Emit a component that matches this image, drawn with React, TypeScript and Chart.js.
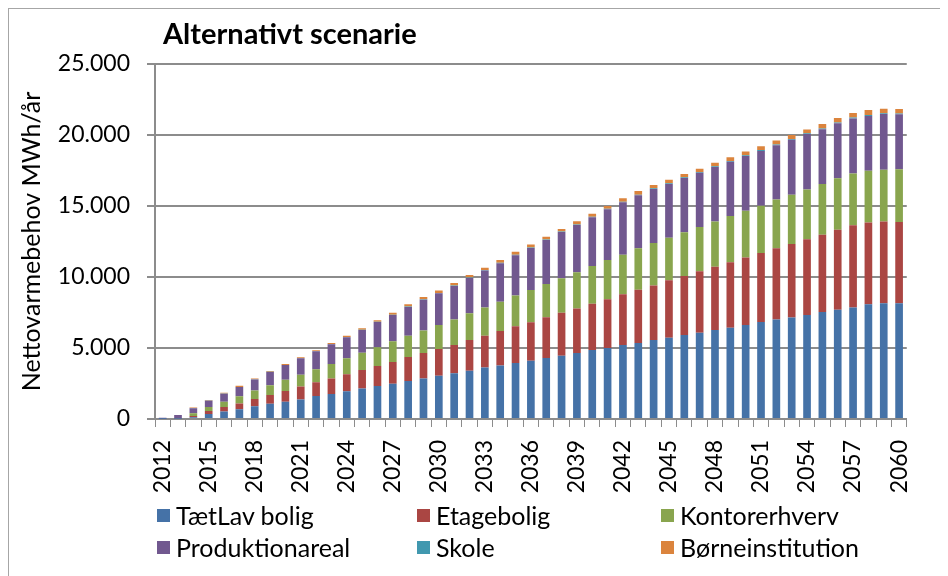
import React, { useEffect, useRef } from "react";
import { Chart, registerables } from "chart.js";

Chart.register(...registerables);

const years = [
  "2012", "2013", "2014", "2015", "2016", "2017", "2018", "2019", "2020", "2021",
  "2022", "2023", "2024", "2025", "2026", "2027", "2028", "2029", "2030", "2031",
  "2032", "2033", "2034", "2035", "2036", "2037", "2038", "2039", "2040", "2041",
  "2042", "2043", "2044", "2045", "2046", "2047", "2048", "2049", "2050", "2051",
  "2052", "2053", "2054", "2055", "2056", "2057", "2058", "2059", "2060",
];

const taetLavBolig = [
  10, 20, 120, 350, 520, 680, 890, 1080, 1220, 1380,
  1620, 1760, 1950, 2140, 2320, 2490, 2680, 2860, 3050, 3220,
  3400, 3620, 3760, 3940, 4110, 4300, 4460, 4650, 4860, 5000,
  5210, 5350, 5560, 5730, 5920, 6080, 6270, 6430, 6620, 6830,
  7000, 7140, 7320, 7540, 7700, 7860, 8080, 8150, 8150,
];

const etagebolig = [
  0, 10, 90, 210, 330, 420, 520, 610, 750, 900,
  960, 1100, 1200, 1310, 1410, 1520, 1690, 1790, 1880, 1990,
  2160, 2250, 2440, 2590, 2700, 2860, 3030, 3140, 3260, 3430,
  3570, 3760, 3850, 4040, 4150, 4320, 4460, 4600, 4760, 4860,
  5020, 5180, 5330, 5440, 5630, 5780, 5750, 5750, 5720,
];

const kontorerhverv = [
  0, 30, 200, 290, 370, 500, 590, 680, 800, 840,
  920, 1010, 1120, 1220, 1320, 1460, 1500, 1590, 1690, 1790,
  1880, 1990, 2060, 2160, 2270, 2350, 2420, 2540, 2650, 2770,
  2790, 2910, 2980, 3000, 3080, 3120, 3170, 3270, 3290, 3330,
  3430, 3480, 3520, 3570, 3620, 3640, 3660, 3660, 3710,
];

const produktionareal = [
  80, 220, 350, 440, 560, 650, 790, 940, 1030, 1150,
  1270, 1390, 1480, 1600, 1780, 1850, 2020, 2160, 2230, 2370,
  2490, 2590, 2700, 2840, 2960, 3090, 3260, 3330, 3430, 3570,
  3690, 3730, 3810, 3780, 3820, 3830, 3850, 3820, 3850, 3860,
  3820, 3870, 3900, 3850, 3870, 3890, 3850, 3920, 3880,
];

const skole = [
  0, 0, 10, 10, 10, 10, 10, 10, 10, 15,
  15, 15, 20, 20, 20, 25, 25, 30, 30, 30,
  35, 35, 35, 40, 40, 40, 40, 45, 45, 45,
  45, 50, 50, 50, 50, 50, 50, 55, 55, 55,
  55, 55, 55, 60, 60, 60, 60, 60, 60,
];

const boerneinstitution = [
  0, 10, 40, 40, 60, 80, 60, 60, 60, 60,
  60, 75, 85, 95, 100, 140, 160, 160, 175, 175,
  175, 175, 200, 210, 215, 200, 175, 215, 215, 190,
  235, 260, 230, 250, 230, 230, 250, 255, 255, 265,
  295, 275, 255, 310, 320, 320, 360, 310, 310,
];

const seriesNames = [
  "TætLav bolig",
  "Etagebolig",
  "Kontorerhverv",
  "Produktionareal",
  "Skole",
  "Børneinstitution",
];
const seriesData = [taetLavBolig, etagebolig, kontorerhverv, produktionareal, skole, boerneinstitution];
const seriesColors = ["#4572A7", "#AA4643", "#89A54E", "#71588F", "#4198AF", "#DB843D"];

const chartTitle = "Alternativt scenarie";
const yAxisTitle = "Nettovarmebehov MWh/år";
const yMax = 25000;
const yStep = 5000;

const FONT = "Lato, 'Open Sans', sans-serif";

const formatThousands = (v: number) =>
  String(Math.round(v)).replace(/\B(?=(\d{3})+(?!\d))/g, ".");

const cornerTitle = {
  id: "cornerTitle",
  afterDraw(chart: any) {
    const { ctx, chartArea } = chart;
    ctx.save();
    ctx.font = `bold 29px ${FONT}`;
    ctx.fillStyle = "#000";
    ctx.textBaseline = "alphabetic";
    ctx.textAlign = "left";
    ctx.fillText(chartTitle, chartArea.left + 8, chartArea.top - 20);
    ctx.restore();
  },
};

export default function App() {
  const canvasRef = useRef<HTMLCanvasElement | null>(null);

  useEffect(() => {
    if (!canvasRef.current) return;
    const chart = new Chart(canvasRef.current, {
      type: "bar",
      data: {
        labels: years,
        datasets: seriesNames.map((name, i) => ({
          label: name,
          data: seriesData[i],
          backgroundColor: seriesColors[i],
          borderWidth: 0,
          barPercentage: 0.5,
          categoryPercentage: 1,
          stack: "s",
        })),
      },
      options: {
        responsive: false,
        animation: false,
        layout: { padding: { top: 55, right: 30, bottom: 77, left: 0 } },
        plugins: {
          legend: { display: false },
          title: { display: false },
          tooltip: { enabled: false },
        },
        scales: {
          x: {
            stacked: true,
            offset: true,
            grid: {
              offset: true,
              drawOnChartArea: false,
              drawTicks: true,
              tickLength: 8,
              color: "#8c8c8c",
              lineWidth: 1,
            },
            border: { display: true, color: "#8c8c8c", width: 2 },
            ticks: {
              autoSkip: false,
              maxRotation: 90,
              minRotation: 90,
              padding: 13,
              color: "#000",
              font: { family: FONT, size: 23 },
              callback: (_v: any, idx: number) => (idx % 3 === 0 ? years[idx] : ""),
            },
            afterFit: (s: any) => {
              s.height = 80;
            },
          },
          y: {
            stacked: true,
            min: 0,
            max: yMax,
            grid: {
              color: "#8c8c8c",
              lineWidth: 2,
              drawTicks: true,
              tickLength: 8,
            },
            border: { display: true, color: "#8c8c8c", width: 2 },
            ticks: {
              stepSize: yStep,
              padding: 17,
              color: "#000",
              font: { family: FONT, size: 23 },
              callback: (v: any) => formatThousands(Number(v)),
            },
            title: {
              display: true,
              text: yAxisTitle,
              color: "#000",
              font: { family: FONT, size: 25 },
              padding: { top: 8, bottom: 0 },
            },
            afterFit: (s: any) => {
              s.width = 146;
            },
          },
        },
      },
      plugins: [cornerTitle],
    });
    return () => chart.destroy();
  }, []);

  return (
    <div
      style={{
        position: "relative",
        width: 931,
        height: 567,
        border: "1px solid #a6a6a6",
        fontFamily: FONT,
        background: "#fff",
      }}
    >
      <canvas ref={canvasRef} width={931} height={567} style={{ display: "block" }} />
      <div
        style={{
          position: "absolute",
          left: 148,
          top: 490,
          display: "grid",
          gridTemplateColumns: "260px 244px auto",
          gridAutoRows: "32px",
          fontSize: 25,
          color: "#000",
          whiteSpace: "nowrap",
        }}
      >
        {seriesNames.map((name, i) => (
          <div key={name} style={{ display: "flex", alignItems: "center", height: 32 }}>
            <span
              style={{
                display: "inline-block",
                width: 13,
                height: 13,
                background: seriesColors[i],
                marginRight: 6,
              }}
            />
            <span>{name}</span>
          </div>
        ))}
      </div>
    </div>
  );
}
